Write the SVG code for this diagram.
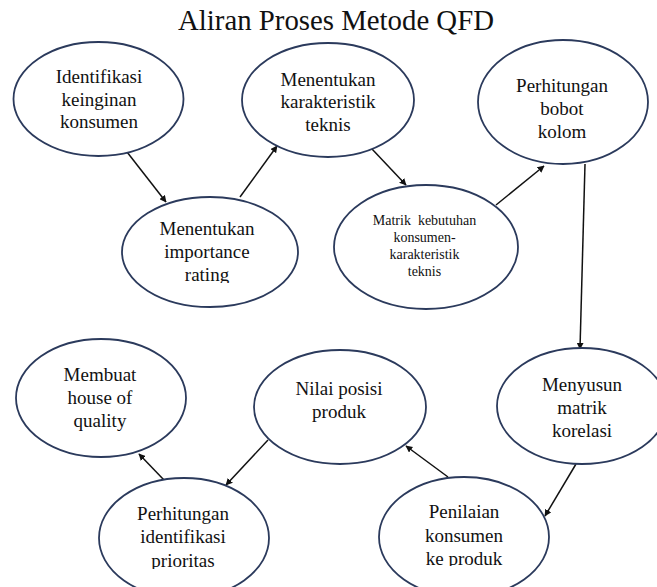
<svg xmlns="http://www.w3.org/2000/svg" width="657" height="587" viewBox="0 0 657 587">
<style>
.n ellipse{fill:#fff;stroke:#2b3a5c;stroke-width:1.8}
text{font-family:'Liberation Serif','Times New Roman','DejaVu Serif',serif;fill:#111;text-anchor:middle}
.t{font-size:19px}
.s{font-size:14px}
.title{font-size:28.8px}
.c line{stroke:#111;stroke-width:1.5;marker-end:url(#ah)}
</style>
<defs>
<marker id="ah" viewBox="0 0 10 10" refX="9" refY="5" markerWidth="7" markerHeight="7" markerUnits="userSpaceOnUse" orient="auto">
<path d="M0,0 L10,5 L0,10 z" fill="#111"/>
</marker>
<clipPath id="c3"><rect x="0" y="0" width="657" height="283"/></clipPath>
<clipPath id="c7"><rect x="0" y="0" width="657" height="566"/></clipPath>
<clipPath id="c10"><rect x="0" y="0" width="657" height="569"/></clipPath>
</defs>
<rect width="657" height="587" fill="#fff"/>
<text class="title" x="336" y="30">Aliran Proses Metode QFD</text>
<g class="c" id="connectors">
<line x1="127" y1="152" x2="166" y2="202"/>
<line x1="240" y1="197" x2="277" y2="146"/>
<line x1="372" y1="149" x2="406" y2="185"/>
<line x1="496" y1="205" x2="544" y2="166"/>
<line x1="585" y1="164" x2="580" y2="349"/>
<line x1="576" y1="464" x2="545" y2="516"/>
<line x1="448" y1="477" x2="406" y2="446"/>
<line x1="268" y1="440" x2="226" y2="485"/>
<line x1="164" y1="480" x2="139" y2="454"/>
</g>
<g class="n" id="n1"><ellipse cx="98.5" cy="99" rx="85" ry="57"/>
<text class="t" x="99" y="83">Identifikasi</text><text class="t" x="99" y="106">keinginan</text><text class="t" x="99" y="128">konsumen</text></g>
<g class="n" id="n2"><ellipse cx="328" cy="100" rx="86" ry="57"/>
<text class="t" x="328" y="86">Menentukan</text><text class="t" x="328" y="108">karakteristik</text><text class="t" x="328" y="131">teknis</text></g>
<g class="n" id="n3"><ellipse cx="210" cy="252" rx="88" ry="55"/>
<g clip-path="url(#c3)"><text class="t" x="207" y="235">Menentukan</text><text class="t" x="207" y="258">importance</text><text class="t" x="207" y="281">rating</text></g></g>
<g class="n" id="n4"><ellipse cx="426" cy="247" rx="92" ry="62"/>
<text class="t s" x="424.5" y="225" xml:space="preserve">Matrik  kebutuhan</text><text class="t s" x="424.5" y="242">konsumen-</text><text class="t s" x="424.5" y="259">karakteristik</text><text class="t s" x="424.5" y="276">teknis</text></g>
<g class="n" id="n5"><ellipse cx="563" cy="102" rx="85" ry="62"/>
<text class="t" x="562" y="92">Perhitungan</text><text class="t" x="562" y="115">bobot</text><text class="t" x="562" y="138">kolom</text></g>
<g class="n" id="n6"><ellipse cx="582" cy="406" rx="85" ry="58"/>
<text class="t" x="582" y="391">Menyusun</text><text class="t" x="582" y="414">matrik</text><text class="t" x="582" y="437">korelasi</text></g>
<g class="n" id="n7"><ellipse cx="464" cy="537" rx="85" ry="60"/>
<g clip-path="url(#c7)"><text class="t" x="464" y="518">Penilaian</text><text class="t" x="464" y="542">konsumen</text><text class="t" x="464" y="565">ke produk</text></g></g>
<g class="n" id="n8"><ellipse cx="340" cy="407" rx="86" ry="57"/>
<text class="t" x="339" y="395">Nilai posisi</text><text class="t" x="339" y="418">produk</text></g>
<g class="n" id="n9"><ellipse cx="101" cy="398" rx="85" ry="59"/>
<text class="t" x="100" y="381">Membuat</text><text class="t" x="100" y="404">house of</text><text class="t" x="100" y="427">quality</text></g>
<g class="n" id="n10"><ellipse cx="184" cy="538" rx="85" ry="60"/>
<g clip-path="url(#c10)"><text class="t" x="183" y="520">Perhitungan</text><text class="t" x="183" y="543">identifikasi</text><text class="t" x="183" y="567">prioritas</text></g></g>
</svg>
